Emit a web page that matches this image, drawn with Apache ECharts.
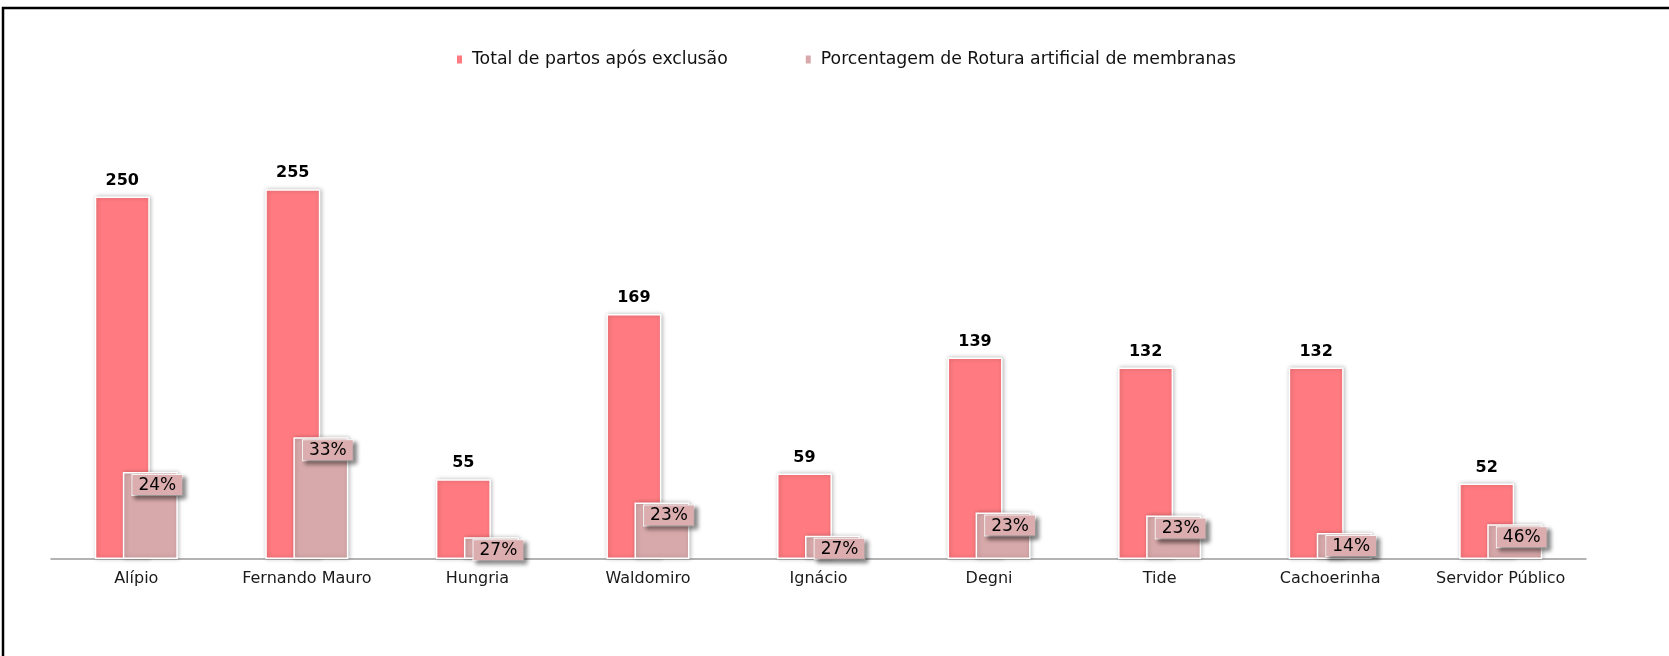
<!DOCTYPE html>
<html>
<head>
<meta charset="utf-8">
<script src="https://cdn.jsdelivr.net/npm/echarts@6/dist/echarts.min.js"></script>
<style>
  html, body { margin: 0; padding: 0; background: #fff; }
  #chart { width: 1669px; height: 656px; }
</style>
</head>
<body>
<div id="chart"></div>
<script>
// dados
const categorias = ['Alípio', 'Fernando Mauro', 'Hungria', 'Waldomiro', 'Ignácio', 'Degni', 'Tide', 'Cachoerinha', 'Servidor Público'];
const totalPartos = [250, 255, 55, 169, 59, 139, 132, 132, 52];
// altura das barras de rotura (nº de casos estimado pela altura)
const roturaCasos = [60, 84, 15, 39, 16, 32, 30, 18, 24];
// rótulos em porcentagem mostrados em cada barra
const roturaPct = [24, 33, 27, 23, 27, 23, 23, 14, 46];

const nomeTotal = 'Total de partos após exclusão';
const nomeRotura = 'Porcentagem de Rotura artificial de membranas';

const corTotal = '#ff7b81';
const corRotura = '#d8a9aa';
const fonte = '"DejaVu Sans", Arial, sans-serif';

const chart = echarts.init(document.getElementById('chart'), null, { renderer: 'canvas' });

const barStyle = (cor) => ({
  color: cor,
  borderColor: '#ffffff',
  borderWidth: 1.5,
  shadowBlur: 4,
  shadowColor: 'rgba(0,0,0,0.25)',
  shadowOffsetX: 1,
  shadowOffsetY: 0
});

chart.setOption({
  animation: false,
  backgroundColor: '#ffffff',
  graphic: [{
    type: 'rect',
    shape: { x: 3, y: 8, width: 1700, height: 700 },
    style: { fill: 'none', stroke: '#000', lineWidth: 2.5 },
    silent: true
  }],
  legend: {
    left: 450,
    top: 46,
    itemWidth: 7,
    itemHeight: 10,
    itemGap: 76,
    icon: 'rect',
    textStyle: { fontFamily: fonte, fontSize: 17.3, color: '#111', padding: [0, 0, 0, 4] },
    data: [nomeTotal, nomeRotura]
  },
  grid: { left: 51, right: 83, top: 124, bottom: 97 },
  xAxis: {
    type: 'category',
    data: categorias,
    axisTick: { show: false },
    axisLine: { lineStyle: { color: '#9a9a9a', width: 1.5 } },
    axisLabel: { fontFamily: fonte, fontSize: 16, color: '#1a1a1a', margin: 12 }
  },
  yAxis: {
    type: 'value',
    min: 0,
    max: 300,
    show: false,
    splitLine: { show: false }
  },
  series: [
    {
      name: nomeTotal,
      type: 'bar',
      data: totalPartos,
      barWidth: 55,
      barGap: '-49%',
      itemStyle: barStyle(corTotal),
      label: {
        show: true,
        position: 'top',
        distance: 8,
        fontFamily: fonte,
        fontSize: 16,
        fontWeight: 'bold',
        color: '#000'
      }
    },
    {
      name: nomeRotura,
      type: 'bar',
      data: roturaCasos,
      barWidth: 55,
      itemStyle: barStyle(corRotura),
      label: {
        show: true,
        position: 'insideTop',
        distance: 3,
        offset: [7, 0],
        formatter: (p) => roturaPct[p.dataIndex] + '%',
        fontFamily: fonte,
        fontSize: 17,
        color: '#000',
        padding: [2, 6, 1, 6],
        backgroundColor: '#dbadae',
        borderColor: 'rgba(255,255,255,0.9)',
        borderWidth: 1,
        shadowBlur: 4,
        shadowColor: 'rgba(0,0,0,0.45)',
        shadowOffsetX: 3,
        shadowOffsetY: 3
      }
    }
  ]
});
</script>
</body>
</html>
